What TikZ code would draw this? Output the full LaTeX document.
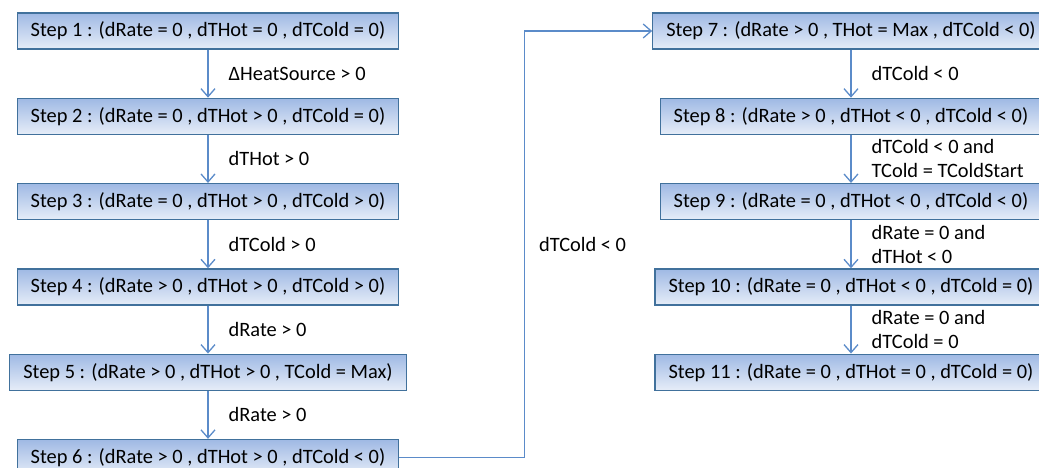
\documentclass[tikz,border=0pt]{standalone}
\usepackage{fontspec}
\setmainfont{Carlito}
\usetikzlibrary{positioning,arrows.meta}

\definecolor{boxtop}{HTML}{9FB9E4}
\definecolor{boxbot}{HTML}{E6EDF8}
\definecolor{boxline}{HTML}{41719C}
\definecolor{flow}{HTML}{5B8BC9}

\tikzset{
  stepbox/.style={draw=boxline, line width=1.3pt, top color=boxtop, bottom color=boxbot,
    minimum height=36pt, inner xsep=13.5pt, font=\fontsize{20.4}{24}\selectfont},
  flowarrow/.style={draw=flow, line width=1.3pt, -{Straight Barb[length=8pt,width=14pt]}},
  cond/.style={font=\fontsize{20.4}{24}\selectfont, align=left, inner sep=0pt},
}

\begin{document}
\begin{tikzpicture}[node distance=48pt]
  \useasboundingbox (0,0) rectangle (1039pt,-468pt);

  % heating phase
  \node[stepbox] (s1) at (208pt,-31pt) {Step 1 : (dRate = 0 , dTHot = 0 , dTCold = 0)};
  \node[stepbox, below=of s1] (s2) {Step 2 : (dRate = 0 , dTHot > 0 , dTCold = 0)};
  \node[stepbox, below=of s2] (s3) {Step 3 : (dRate = 0 , dTHot > 0 , dTCold > 0)};
  \node[stepbox, below=of s3] (s4) {Step 4 : (dRate > 0 , dTHot > 0 , dTCold > 0)};
  \node[stepbox, below=of s4] (s5) {Step 5 : (dRate > 0 , dTHot > 0 , TCold = Max)};
  \node[stepbox, below=of s5] (s6) {Step 6 : (dRate > 0 , dTHot > 0 , dTCold < 0)};

  % cooling phase
  \node[stepbox] (s7) at (851pt,-31pt) {Step 7 : (dRate > 0 , THot = Max , dTCold < 0)};
  \node[stepbox, below=of s7] (s8) {Step 8 : (dRate > 0 , dTHot < 0 , dTCold < 0)};
  \node[stepbox, below=of s8] (s9) {Step 9 : (dRate = 0 , dTHot < 0 , dTCold < 0)};
  \node[stepbox, below=of s9] (s10) {Step 10 : (dRate = 0 , dTHot < 0 , dTCold = 0)};
  \node[stepbox, below=of s10] (s11) {Step 11 : (dRate = 0 , dTHot = 0 , dTCold = 0)};

  \draw[flowarrow] (s1) -- node[cond, right=20pt] {ΔHeatSource > 0} (s2);
  \draw[flowarrow] (s2) -- node[cond, right=20pt] {dTHot > 0} (s3);
  \draw[flowarrow] (s3) -- node[cond, right=20pt] {dTCold > 0} (s4);
  \draw[flowarrow] (s4) -- node[cond, right=20pt] {dRate > 0} (s5);
  \draw[flowarrow] (s5) -- node[cond, right=20pt] {dRate > 0} (s6);

  \draw[flowarrow] (s6.east) -- ++(125pt,0) |- node[cond, pos=0.25, right=14pt] {dTCold < 0} (s7.west);

  \draw[flowarrow] (s7) -- node[cond, right=20pt] {dTCold < 0} (s8);
  \draw[flowarrow] (s8) -- node[cond, right=20pt] {dTCold < 0 and\\TCold = TColdStart} (s9);
  \draw[flowarrow] (s9) -- node[cond, right=20pt] {dRate = 0 and\\dTHot < 0} (s10);
  \draw[flowarrow] (s10) -- node[cond, right=20pt] {dRate = 0 and\\dTCold = 0} (s11);
\end{tikzpicture}
\end{document}
